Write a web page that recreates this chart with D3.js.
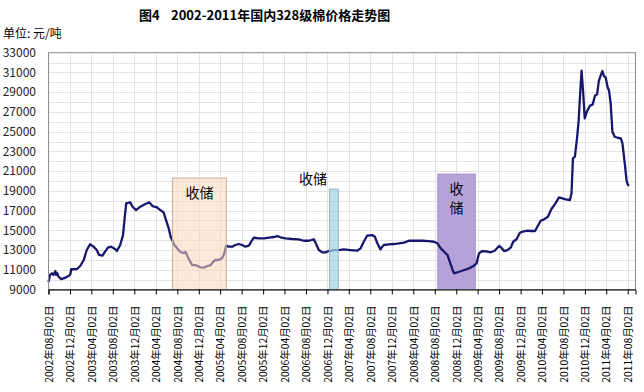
<!DOCTYPE html>
<html>
<head>
<meta charset="utf-8">
<script src="https://cdn.jsdelivr.net/npm/d3@7"></script>
<style>
  body { margin: 0; background: #fff; }
  svg text { font-family: "Noto Sans CJK SC", sans-serif; }
</style>
</head>
<body>
<div id="chart"></div>
<script>
// 328级棉价格 (元/吨)
var dates = [
  "2002-08-02","2002-08-10","2002-08-21","2002-08-30","2002-09-10","2002-09-15","2002-09-21","2002-09-28",
  "2002-10-13","2002-10-26","2002-11-10","2002-11-24","2002-12-04","2002-12-09","2003-01-11","2003-01-30",
  "2003-02-18","2003-03-07","2003-03-26","2003-04-14","2003-05-03","2003-05-16","2003-06-04","2003-06-19",
  "2003-07-05","2003-07-23","2003-08-15","2003-08-25","2003-09-13","2003-09-29","2003-10-08","2003-10-17",
  "2003-11-09","2003-11-22","2003-12-12","2004-01-05","2004-02-03","2004-02-26","2004-03-14","2004-04-09",
  "2004-04-27","2004-05-16","2004-05-30","2004-06-14","2004-06-25","2004-07-06","2004-07-16","2004-08-01",
  "2004-08-19","2004-09-08","2004-09-17","2004-09-30","2004-10-15","2004-10-25","2004-11-13","2004-12-11",
  "2004-12-30","2005-01-19","2005-02-07","2005-02-22","2005-03-06","2005-03-24","2005-04-13","2005-04-26",
  "2005-05-06","2005-05-20","2005-06-09","2005-06-27","2005-07-16","2005-08-05","2005-08-24","2005-09-12",
  "2005-10-01","2005-10-10","2005-11-08","2005-12-06","2006-01-14","2006-02-02","2006-02-21","2006-03-10",
  "2006-04-08","2006-05-15","2006-06-22","2006-07-20","2006-08-18","2006-09-16","2006-10-01","2006-10-14",
  "2006-11-03","2006-11-21","2006-12-10","2007-01-08","2007-02-06","2007-03-04","2007-04-11","2007-05-19",
  "2007-06-08","2007-06-26","2007-07-15","2007-08-13","2007-08-28","2007-09-11","2007-09-29","2007-10-09",
  "2007-10-18","2007-11-16","2007-12-14","2008-01-12","2008-02-10","2008-03-08","2008-04-15","2008-05-23",
  "2008-06-30","2008-07-28","2008-08-17","2008-09-05","2008-09-24","2008-10-13","2008-10-26","2008-11-11",
  "2008-11-20","2008-12-18","2009-01-16","2009-02-14","2009-03-12","2009-03-27","2009-04-10","2009-04-29",
  "2009-05-27","2009-06-15","2009-07-08","2009-08-02","2009-08-15","2009-08-30","2009-09-19","2009-10-08",
  "2009-10-21","2009-11-09","2009-11-28","2009-12-13","2010-01-11","2010-01-26","2010-02-22","2010-03-07",
  "2010-03-26","2010-04-14","2010-05-06","2010-05-25","2010-06-14","2010-07-08","2010-07-27","2010-08-15",
  "2010-09-08","2010-09-17","2010-09-25","2010-10-06","2010-10-17","2010-10-27","2010-11-05","2010-11-13",
  "2010-11-21","2010-12-01","2010-12-13","2010-12-30","2011-01-15","2011-01-28","2011-02-09","2011-02-19",
  "2011-03-02","2011-03-11","2011-03-20","2011-03-30","2011-04-09","2011-04-18","2011-04-27","2011-05-07",
  "2011-05-20","2011-06-05","2011-06-24","2011-07-03","2011-07-16","2011-07-26","2011-08-01","2011-08-08"
];
var prices = [
  9750,10470,10640,10470,10870,10470,10640,10300,
  10060,10130,10230,10370,10540,11050,11080,11410,
  11990,13000,13580,13340,13000,12500,12430,12830,
  13240,13340,13100,12900,13510,14520,16210,17730,
  17830,17390,17050,17390,17660,17830,17460,17330,
  17050,16820,16040,15200,14350,13940,13510,13170,
  12830,12670,12830,12320,11820,11480,11480,11250,
  11210,11380,11480,11820,11990,11990,12160,12670,
  13440,13340,13340,13510,13610,13510,13340,13440,
  14020,14250,14190,14190,14290,14320,14420,14290,
  14190,14120,14090,13940,13940,14090,13510,13000,
  12770,12770,12900,13000,13000,13070,13000,12930,
  13170,13840,14450,14520,14350,13680,13070,13340,
  13510,13580,13610,13680,13750,13940,13940,13940,
  13910,13840,13680,13170,12830,12500,11820,10980,
  10640,10800,10980,11150,11410,11650,12670,12900,
  12850,12770,12930,13410,13240,12900,13000,13270,
  13840,14090,14750,14860,14960,14930,14930,15360,
  15970,16110,16380,17130,17630,18340,18240,18140,
  18070,18750,22290,22460,24150,26000,28880,31170,
  29210,26340,27020,27620,27760,28640,28780,30150,
  30730,31140,30630,30500,29550,29140,27860,24990,
  24480,24380,24310,23810,21780,20090,19690,19490
];

// 收储 periods
var storeNames = ["收储", "收储", "收储"];
var storeStart = ["2004-07-06", "2006-12-14", "2008-08-19"];
var storeEnd   = ["2005-05-07", "2007-02-01", "2009-03-20"];
var storeTop   = [20300, 19180, 20700];

var yTicks = [9000, 11000, 13000, 15000, 17000, 19000, 21000, 23000, 25000, 27000, 29000, 31000, 33000];

var width = 644, height = 392;
var parse = d3.timeParse("%Y-%m-%d");
var fmt = d3.timeFormat("%Y年%m月%d日");

var firstTick = new Date(2002, 7, 2);
var tickDates = d3.range(28).map(function(i) { return d3.timeMonth.offset(firstTick, 4 * i); });

var svg = d3.select("#chart").append("svg")
    .attr("width", width)
    .attr("height", height);

var plot = { left: 48.5, right: 635.5, top: 52.7, bottom: 289.5 };

var x = d3.scaleTime()
    .domain([firstTick, new Date(2011, 8, 15)])
    .range([plot.left, plot.right]);
var y = d3.scaleLinear()
    .domain([9000, 33000])
    .range([plot.bottom, plot.top]);

var data = dates.map(function(d, i) { return { date: parse(d), value: prices[i] }; });

// grid
var grid = svg.append("g").attr("stroke", "#e3e3e3").attr("stroke-width", 1);
grid.selectAll("line.h")
    .data(d3.range(10000, 33000, 1000))
  .enter().append("line")
    .attr("class", "h")
    .attr("x1", plot.left).attr("x2", plot.right)
    .attr("y1", function(d) { return Math.round(y(d)) + 0.5; })
    .attr("y2", function(d) { return Math.round(y(d)) + 0.5; });
grid.selectAll("line.v")
    .data(tickDates.slice(1))
  .enter().append("line")
    .attr("class", "v")
    .attr("y1", plot.top).attr("y2", plot.bottom)
    .attr("x1", function(d) { return Math.round(x(d)) + 0.5; })
    .attr("x2", function(d) { return Math.round(x(d)) + 0.5; });

// shaded periods: the purple one sits behind the line, the others over it
var shadeStyle = [
  { fill: "#fbd7ba", opacity: 0.55, stroke: "#c9ad94" },
  { fill: "#9fd3e2", opacity: 0.7, stroke: "#9fb5bd" },
  { fill: "#b5a2d8", opacity: 1, stroke: "#a795c8" }
];
function drawShade(g, i) {
  var s = shadeStyle[i];
  g.append("rect")
      .attr("x", x(parse(storeStart[i])))
      .attr("y", y(storeTop[i]))
      .attr("width", x(parse(storeEnd[i])) - x(parse(storeStart[i])))
      .attr("height", plot.bottom - y(storeTop[i]))
      .attr("fill", s.fill)
      .attr("fill-opacity", s.opacity)
      .attr("stroke", s.stroke)
      .attr("stroke-width", 1);
}
var back = svg.append("g");
drawShade(back, 2);

var line = d3.line()
    .x(function(d) { return x(d.date); })
    .y(function(d) { return y(d.value); });
svg.append("path")
    .datum(data)
    .attr("fill", "none")
    .attr("stroke", "#17176e")
    .attr("stroke-width", 2.3)
    .attr("stroke-linejoin", "round")
    .attr("d", line);

var front = svg.append("g");
drawShade(front, 0);
drawShade(front, 1);

// plot frame
svg.append("rect")
    .attr("x", plot.left).attr("y", plot.top)
    .attr("width", plot.right - plot.left)
    .attr("height", plot.bottom - plot.top)
    .attr("fill", "none")
    .attr("stroke", "#8c8c8c");

// x axis
var xAxis = d3.axisBottom(x)
    .tickValues(tickDates)
    .tickSize(5)
    .tickFormat(fmt);
var gx = svg.append("g")
    .attr("transform", "translate(0," + plot.bottom + ")")
    .call(xAxis);
gx.select(".domain").attr("stroke", "#000");
gx.selectAll(".tick line").attr("stroke", "#000");
gx.selectAll(".tick text")
    .attr("font-family", "'Noto Sans CJK SC', sans-serif")
    .attr("font-size", 10.4)
    .attr("fill", "#000")
    .attr("text-anchor", "end")
    .attr("transform", "translate(0,16) rotate(-90)")
    .attr("x", 0)
    .attr("y", 0)
    .attr("dy", "0.36em");

// y labels (no tick marks)
svg.append("g").selectAll("text")
    .data(yTicks)
  .enter().append("text")
    .attr("x", 36)
    .attr("y", function(d) { return y(d); })
    .attr("dy", "0.35em")
    .attr("text-anchor", "end")
    .attr("font-family", "'Liberation Serif', serif")
    .attr("font-size", 12)
    .attr("fill", "#222")
    .text(function(d) { return d; });

// 收储 labels
var lab = svg.append("g")
    .attr("font-size", 14)
    .attr("fill", "#000");
lab.append("text")
    .attr("x", (x(parse(storeStart[0])) + x(parse(storeEnd[0]))) / 2)
    .attr("y", 193).attr("dy", "0.35em")
    .attr("text-anchor", "middle")
    .text(storeNames[0]);
lab.append("text")
    .attr("x", 313)
    .attr("y", 179).attr("dy", "0.35em")
    .attr("text-anchor", "middle")
    .text(storeNames[1]);
// vertical one
var px = (x(parse(storeStart[2])) + x(parse(storeEnd[2]))) / 2;
storeNames[2].split("").forEach(function(ch, i) {
  lab.append("text")
      .attr("x", px)
      .attr("y", 189 + 19 * i).attr("dy", "0.35em")
      .attr("text-anchor", "middle")
      .text(ch);
});

// titles
svg.append("text")
    .attr("x", 139).attr("y", 15).attr("dy", "0.35em")
    .attr("font-size", 13).attr("font-weight", "bold")
    .text("图4");
svg.append("text")
    .attr("x", 171).attr("y", 15).attr("dy", "0.35em")
    .attr("font-size", 13).attr("font-weight", "bold")
    .text("2002-2011年国内328级棉价格走势图");
svg.append("text")
    .attr("x", 3).attr("y", 34).attr("dy", "0.35em")
    .attr("font-size", 12)
    .text("单位: 元/吨");
</script>
</body>
</html>
